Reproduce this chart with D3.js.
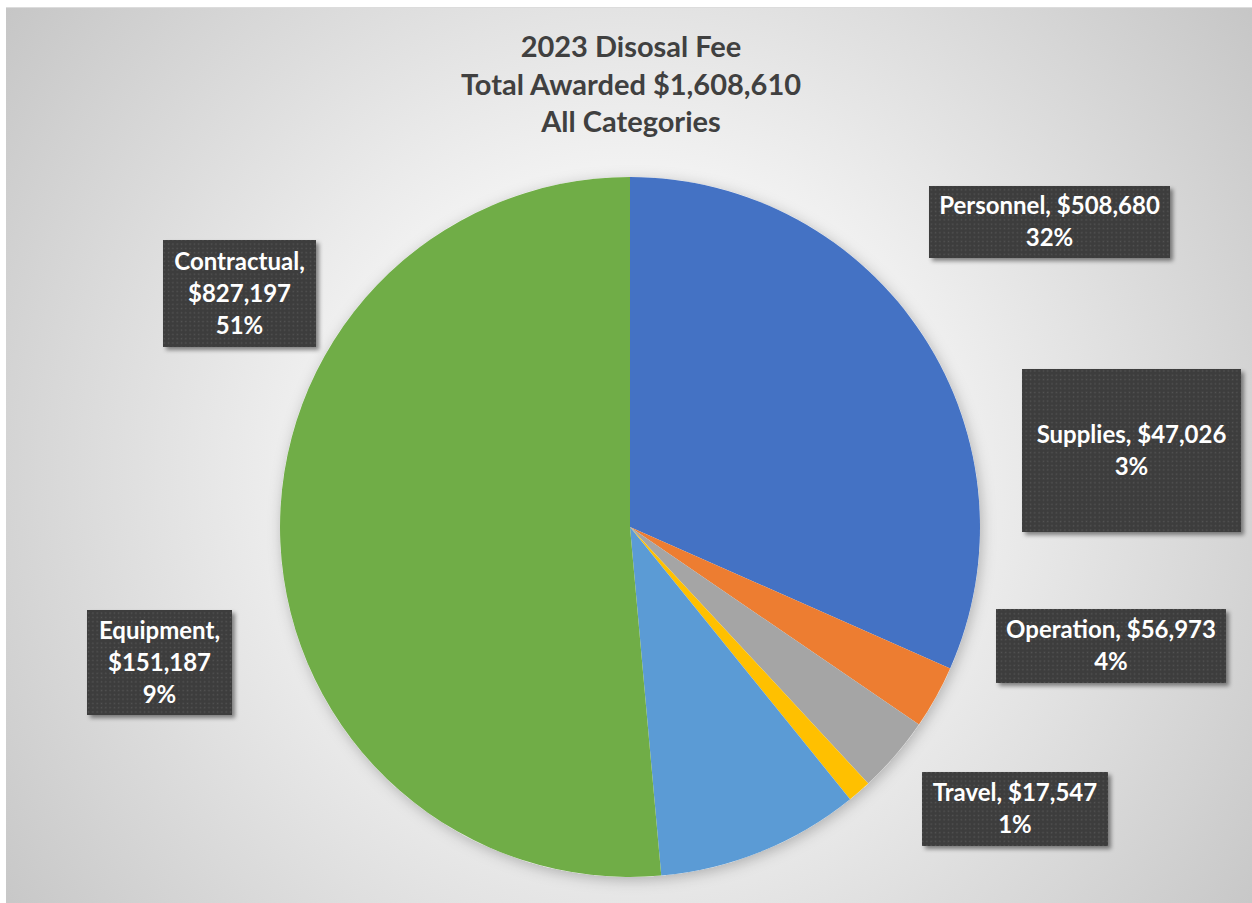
<!DOCTYPE html>
<html>
<head>
<meta charset="utf-8">
<script src="https://cdn.jsdelivr.net/npm/d3@7"></script>
<style>
  body { margin: 0; background: #fff; }
  svg { display: block; }
</style>
</head>
<body>
<div id="chart"></div>
<script>
// data
var categories = ["Personnel", "Supplies", "Operation", "Travel", "Equipment", "Contractual"];
var amounts = [508680, 47026, 56973, 17547, 151187, 827197];
var colors = ["#4472C4", "#ED7D31", "#A5A5A5", "#FFC000", "#5B9BD5", "#70AD47"];
var titleLines = ["2023 Disosal Fee", "Total Awarded $1,608,610", "All Categories"];

// label box layout (center x, center y, width, height, how the text wraps)
var boxLayout = [
  { cx: 1049.5, cy: 222, w: 241, h: 72, wrap: 1 },
  { cx: 1131.5, cy: 450.5, w: 219, h: 163, wrap: 1 },
  { cx: 1111, cy: 646, w: 230, h: 74, wrap: 1 },
  { cx: 1015, cy: 809, w: 186, h: 74, wrap: 1 },
  { cx: 159.5, cy: 662.5, w: 145, h: 105, wrap: 2 },
  { cx: 239.5, cy: 293.5, w: 153, h: 107, wrap: 2 }
];

var W = 1252, H = 903;
var cx = 630, cy = 527, radius = 350;

var svg = d3.select("#chart").append("svg")
  .attr("width", W).attr("height", H);

var defs = svg.append("defs");

var bg = defs.append("radialGradient")
  .attr("id", "bg")
  .attr("gradientUnits", "userSpaceOnUse")
  .attr("cx", 630).attr("cy", 470).attr("r", 820);
bg.append("stop").attr("offset", "0").attr("stop-color", "#ffffff");
bg.append("stop").attr("offset", "0.35").attr("stop-color", "#f3f3f3");
bg.append("stop").attr("offset", "1").attr("stop-color", "#c2c2c2");

var pat = defs.append("pattern")
  .attr("id", "dots")
  .attr("patternUnits", "userSpaceOnUse")
  .attr("width", 4.3).attr("height", 4.3);
pat.append("rect").attr("width", 4.3).attr("height", 4.3).attr("fill", "#3d3d3d");
pat.append("rect").attr("x", 1.5).attr("y", 1.5).attr("width", 1.4).attr("height", 1.4).attr("fill", "#555555");

var boxShadow = defs.append("filter").attr("id", "boxShadow")
  .attr("x", "-10%").attr("y", "-10%").attr("width", "130%").attr("height", "140%");
boxShadow.append("feDropShadow")
  .attr("dx", 3).attr("dy", 3).attr("stdDeviation", 2.2)
  .attr("flood-color", "#000").attr("flood-opacity", 0.45);

var pieShadow = defs.append("filter").attr("id", "pieShadow")
  .attr("x", "-10%").attr("y", "-10%").attr("width", "120%").attr("height", "120%");
pieShadow.append("feDropShadow")
  .attr("dx", 2).attr("dy", 3).attr("stdDeviation", 7)
  .attr("flood-color", "#000").attr("flood-opacity", 0.25);

// chart area
svg.append("rect")
  .attr("x", 6).attr("y", 7).attr("width", W - 6).attr("height", H - 7)
  .attr("fill", "url(#bg)");
svg.append("line")
  .attr("x1", 6).attr("x2", W).attr("y1", 7.5).attr("y2", 7.5)
  .attr("stroke", "#dcdcdc").attr("stroke-width", 1);

// title
svg.append("text")
  .attr("x", 631).attr("text-anchor", "middle")
  .attr("font-family", "Lato, 'Open Sans', sans-serif")
  .attr("font-weight", "bold").attr("font-size", 29)
  .attr("fill", "#404040")
  .selectAll("tspan").data(titleLines).join("tspan")
  .attr("x", 631)
  .attr("y", function (d, i) { return 57 + i * 37.5; })
  .text(function (d) { return d; });

// pie
var total = d3.sum(amounts);
var slices = d3.pie().sort(null).value(function (d) { return d; })(amounts);
var arc = d3.arc().innerRadius(0).outerRadius(radius);

var g = svg.append("g")
  .attr("transform", "translate(" + cx + "," + cy + ")");

g.append("circle").attr("r", radius).attr("fill", "#fff")
  .attr("filter", "url(#pieShadow)");

g.selectAll("path.slice").data(slices).join("path")
  .attr("class", "slice")
  .attr("d", arc)
  .attr("fill", function (d, i) { return colors[i]; });

// data labels
var money = d3.format("$,");
var pct = d3.format(".0%");

var labels = svg.selectAll("g.label").data(slices).join("g")
  .attr("class", "label")
  .attr("transform", function (d, i) {
    return "translate(" + boxLayout[i].cx + "," + boxLayout[i].cy + ")";
  });

labels.append("rect")
  .attr("x", function (d, i) { return -boxLayout[i].w / 2; })
  .attr("y", function (d, i) { return -boxLayout[i].h / 2; })
  .attr("width", function (d, i) { return boxLayout[i].w; })
  .attr("height", function (d, i) { return boxLayout[i].h; })
  .attr("fill", "url(#dots)")
  .attr("filter", "url(#boxShadow)");

labels.each(function (d, i) {
  var name = categories[i];
  var val = money(d.value);
  var p = pct(d.value / total);
  var lines = boxLayout[i].wrap === 2
    ? [name + ",", val, p]
    : [name + ", " + val, p];
  var lh = 32;
  var y0 = -(lines.length - 1) * lh / 2 + 8;
  d3.select(this).append("text")
    .attr("text-anchor", "middle")
    .attr("font-family", "Lato, 'Open Sans', sans-serif")
    .attr("font-weight", "bold").attr("font-size", 24)
    .attr("fill", "#ffffff")
    .selectAll("tspan").data(lines).join("tspan")
    .attr("x", 0)
    .attr("y", function (t, k) { return y0 + k * lh; })
    .text(function (t) { return t; });
});
</script>
</body>
</html>
